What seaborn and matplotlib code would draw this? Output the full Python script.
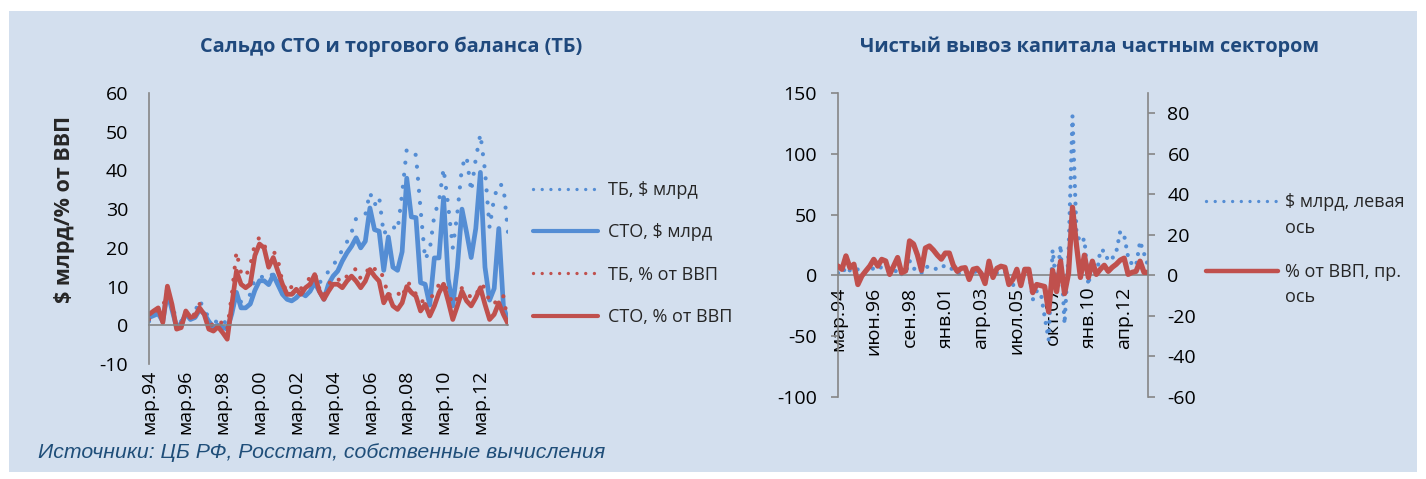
import numpy as np
import pandas as pd
import matplotlib
matplotlib.use("Agg")
import matplotlib.pyplot as plt
from matplotlib.patches import Rectangle
from matplotlib.lines import Line2D
import seaborn as sns

sns.set_style("white")
plt.rcParams['font.family'] = ['Open Sans', 'DejaVu Sans']
plt.rcParams['axes.unicode_minus'] = False

# ---------------- data (quarterly, Q1 1994 .. Q3 2013) ----------------
sto_usd = [2.0, 2.5, 3.0, 1.0, 8.5, 4.0, -0.5, 0.5, 3.0, 1.5, 2.0, 4.0, 3.0, 1.0, -0.5, 0.0,
           -0.5, -1.0, 3.0, 8.5, 4.5, 4.5, 5.5, 9.0, 11.5, 11.5, 10.5, 13.0, 10.5, 8.0, 6.7, 6.3,
           7.1, 8.4, 7.6, 8.8, 11.0, 8.8, 6.7, 10.6, 12.7, 14.0, 16.6, 18.7, 20.4, 22.6, 20.0, 21.7,
           30.3, 24.7, 24.3, 14.2, 22.8, 15.0, 14.2, 19.0, 38.0, 28.0, 27.8, 11.0, 10.6, 5.2, 17.4, 17.4,
           33.0, 12.0, 5.0, 15.0, 30.0, 24.0, 17.5, 25.0, 39.5, 15.0, 6.5, 9.5, 25.0, 5.0, 1.0]
tb_usd = [1.0, 2.5, 3.5, 3.5, 7.0, 5.0, 1.5, 1.0, 3.0, 2.5, 3.5, 6.5, 4.0, 2.0, 1.5, 0.5,
          1.5, 0.0, 3.5, 8.5, 6.0, 6.5, 8.0, 12.0, 12.5, 12.5, 12.0, 13.5, 11.5, 9.0, 7.5, 8.0,
          8.5, 9.5, 9.0, 10.5, 12.0, 11.0, 12.0, 14.0, 15.5, 17.2, 19.5, 21.5, 24.0, 27.6, 28.0, 28.5,
          34.3, 31.0, 33.2, 23.5, 25.3, 25.5, 24.5, 34.0, 45.5, 44.5, 44.0, 30.0, 17.0, 19.5, 28.5, 32.0,
          40.5, 31.0, 20.0, 29.0, 41.0, 43.6, 34.6, 43.0, 49.4, 40.0, 25.2, 33.0, 36.5, 36.0, 24.0]
sto_gdp = [2.8, 3.7, 4.5, 0.7, 10.1, 5.4, -1.0, -0.6, 3.7, 2.0, 2.4, 4.5, 2.8, -1.0, -1.5, -0.4,
           -1.9, -3.6, 5.4, 14.0, 10.6, 9.7, 10.6, 18.0, 21.0, 20.0, 15.0, 17.5, 14.0, 10.6, 8.0, 8.0,
           9.3, 8.0, 9.7, 10.6, 13.1, 8.8, 6.7, 8.8, 10.6, 10.6, 9.7, 11.4, 12.7, 11.4, 9.7, 11.4,
           14.4, 12.7, 11.4, 5.8, 8.0, 5.0, 4.1, 5.8, 10.0, 8.5, 7.5, 3.7, 5.4, 2.4, 5.0, 8.4,
           10.6, 6.3, 1.5, 5.0, 8.8, 6.3, 5.0, 7.1, 9.7, 5.4, 1.5, 2.8, 5.8, 2.8, 0.4]
tb_gdp = [1.5, 3.5, 4.0, 4.5, 9.5, 4.5, -0.5, 0.5, 3.5, 2.0, 3.0, 5.5, 3.0, 1.5, -0.5, 0.0,
          1.0, -1.0, 8.0, 19.0, 13.5, 12.5, 15.5, 21.0, 22.7, 20.5, 19.5, 19.3, 17.0, 11.0, 8.5, 10.0,
          10.5, 9.5, 10.5, 12.5, 13.5, 9.5, 7.5, 10.5, 12.3, 12.0, 11.0, 12.7, 13.0, 14.8, 12.0, 13.0,
          15.5, 14.5, 14.8, 12.0, 7.5, 9.0, 8.5, 7.0, 11.0, 10.5, 8.0, 6.0, 6.5, 6.5, 8.5, 10.5,
          11.0, 8.5, 5.4, 7.0, 9.7, 8.8, 7.0, 7.5, 10.6, 9.7, 6.0, 5.4, 7.6, 7.5, 0.7]

flight_usd = [2, 1, 7, 4, 3, 5, 2, 3, 4, 6, 5, 7, 6, 3, 2, 5,
              1, 2, 12, 6, 3, 2, 7, 7, 6, 5, 7, 8, 6, 5, 2, 1,
              2, 1, 3, 3, 1, 0, 4, 1, 2, 3, 3, -4, -9, 4, -7, 5,
              5, -20, -13, -14, -34, -53, 21, -10, 25, -40, 18, 131, 35, 27, 30, -8,
              13, -2, 21, 20, 12, 14, 19, 36, 33, 15, 9, 8, 28, 18, 8]
flight_gdp = [4.6, 3.0, 9.6, 3.8, 5.5, -4.5, -0.3, 2.2, 4.6, 7.9, 4.6, 7.9, 7.1, 0.5, 4.6, 8.8,
              1.3, 2.2, 17.0, 15.5, 10.0, 2.5, 13.5, 14.5, 12.5, 10.0, 8.0, 11.0, 11.0, 5.0, 2.0, 3.5,
              3.8, -2.0, 3.0, 3.5, 1.0, -4.0, 7.0, -1.0, 3.5, 4.5, 4.0, -4.5, -2.0, 3.0, -5.0, 3.0,
              3.0, -8.5, -4.5, -5.0, -5.5, -18.0, 2.5, -8.0, 7.0, -9.0, 1.0, 33.6, 15.0, -1.0, 10.0, -1.0,
              7.0, 0.5, 3.0, 5.0, 2.0, 4.0, 5.5, 7.5, 8.5, 0.5, 1.5, 2.0, 7.0, 1.5, 1.5]

left_ticklabels = ["мар.94", "мар.96", "мар.98", "мар.00", "мар.02", "мар.04",
                   "мар.06", "мар.08", "мар.10", "мар.12"]
right_ticklabels = ["мар.94", "июн.96", "сен.98", "янв.01", "апр.03", "июл.05",
                    "окт.07", "янв.10", "апр.12"]

left_labels = ["ТБ, $ млрд", "СТО, $ млрд", "ТБ, % от ВВП", "СТО, % от ВВП"]
right_labels = ["$ млрд, левая", "% от ВВП, пр."]

# ---------------- styling ----------------
W, H = 1426, 479
BLUE = "#548DD4"
RED = "#C0504D"
AXC = "#868686"
TITLEC = "#1F497D"
BG = "#D3DFEE"
FS_TICK = 14
FS_LEG = 13
FS_TITLE = 14.3

fig = plt.figure(figsize=(W / 100, H / 100), dpi=100)
fig.patch.set_facecolor("white")
fig.add_artist(Rectangle((9 / W, 1 - 472 / H), 1408 / W, 461 / H,
                         transform=fig.transFigure, facecolor=BG, edgecolor="none", zorder=0))

n = len(sto_usd)
df = pd.DataFrame({"q": np.arange(n), "sto_usd": sto_usd, "tb_usd": tb_usd,
                   "sto_gdp": sto_gdp, "tb_gdp": tb_gdp,
                   "flight_usd": flight_usd, "flight_gdp": flight_gdp})

DOT = (0, (0.01, 2.9))
DOT_R = (0, (0.01, 2.1))


def style_axis(ax):
    ax.set_facecolor("none")
    for s in ["top", "right"]:
        ax.spines[s].set_visible(False)
    for s in ["left", "bottom"]:
        ax.spines[s].set_color(AXC)
        ax.spines[s].set_linewidth(1.2)
    ax.tick_params(axis="both", colors=AXC, labelcolor="black", labelsize=FS_TICK,
                   length=5, width=1.2, direction="out")
    ax.tick_params(axis="y", pad=10)
    ax.grid(False)


# ---------------- left chart ----------------
axL = fig.add_axes([149 / W, 1 - 364 / H, 359 / W, 271 / H])
style_axis(axL)
sns.lineplot(data=df, x="q", y="tb_usd", ax=axL, color=BLUE, linewidth=3.0,
             linestyle=DOT, dash_capstyle="round")
sns.lineplot(data=df, x="q", y="sto_usd", ax=axL, color=BLUE, linewidth=3.4,
             solid_joinstyle="round")
sns.lineplot(data=df, x="q", y="tb_gdp", ax=axL, color=RED, linewidth=3.0,
             linestyle=DOT, dash_capstyle="round")
sns.lineplot(data=df, x="q", y="sto_gdp", ax=axL, color=RED, linewidth=3.4,
             solid_joinstyle="round")
axL.set_xlim(0, n - 1)
axL.set_ylim(-10, 60)
axL.set_yticks(np.arange(-10, 61, 10))
axL.set_xticks(np.arange(0, n, 8)[:len(left_ticklabels)])
axL.set_xticklabels(left_ticklabels)
axL.spines["bottom"].set_position(("data", 0))
axL.tick_params(axis="x", labelrotation=90, pad=27)
axL.set_xlabel("")
axL.set_ylabel("$ млрд/% от ВВП", fontsize=15.5, fontweight="bold")
axL.yaxis.set_label_coords(-0.205, 0.57)

fig.text(391 / W, 1 - 47 / H, "Сальдо СТО и торгового баланса (ТБ)", ha="center",
         va="center", fontsize=FS_TITLE, fontweight="bold", color=TITLEC)

handles_L = [Line2D([], [], color=BLUE, lw=2.4, linestyle=(0, (0.01, 2.6)), dash_capstyle="round"),
             Line2D([], [], color=BLUE, lw=3.0),
             Line2D([], [], color=RED, lw=2.4, linestyle=(0, (0.01, 2.6)), dash_capstyle="round"),
             Line2D([], [], color=RED, lw=3.0)]
fig.legend(handles_L, left_labels, loc="upper left", bbox_to_anchor=(533 / W, 1 - 181 / H),
           frameon=False, fontsize=FS_LEG, handlelength=3.6, handletextpad=0.55,
           labelspacing=1.35, borderpad=0, borderaxespad=0)

# ---------------- right chart ----------------
axR = fig.add_axes([838 / W, 1 - 397 / H, 310 / W, 304 / H])
style_axis(axR)
axR2 = axR.twinx()
axR2.set_facecolor("none")
sns.lineplot(data=df, x="q", y="flight_usd", ax=axR, color=BLUE, linewidth=3.0,
             linestyle=DOT_R, dash_capstyle="round")
sns.lineplot(data=df, x="q", y="flight_gdp", ax=axR2, color=RED, linewidth=3.8,
             solid_joinstyle="round")
axR.set_xlim(0, n - 1)
axR.set_ylim(-100, 150)
axR.set_yticks(np.arange(-100, 151, 50))
axR.set_xticks(np.arange(0, n, 9)[:len(right_ticklabels)])
axR.set_xticklabels(right_ticklabels)
axR.spines["bottom"].set_position(("data", 0))
axR.tick_params(axis="x", labelrotation=90, pad=3)
axR.set_xlabel("")
axR.set_ylabel("")

axR2.set_ylim(-60, 90)
axR2.set_yticks(np.arange(-60, 81, 20))
for s in ["top", "left", "bottom"]:
    axR2.spines[s].set_visible(False)
axR2.spines["right"].set_color(AXC)
axR2.spines["right"].set_linewidth(1.2)
axR2.tick_params(axis="y", colors=AXC, labelcolor="black", labelsize=FS_TICK,
                 length=5, width=1.2, direction="out", pad=9)
axR2.set_ylabel("")
axR2.grid(False)

fig.text(1090 / W, 1 - 47 / H, "Чистый вывоз капитала частным сектором", ha="center",
         va="center", fontsize=FS_TITLE, fontweight="bold", color=TITLEC)

handles_R = [Line2D([], [], color=BLUE, lw=2.4, linestyle=(0, (0.01, 2.6)), dash_capstyle="round"),
             Line2D([], [], color=RED, lw=3.2)]
fig.legend(handles_R, right_labels, loc="upper left",
           bbox_to_anchor=(1206 / W, 1 - 193 / H), frameon=False, fontsize=FS_LEG,
           handlelength=4.0, handletextpad=0.4, labelspacing=2.9, borderpad=0, borderaxespad=0)
fig.text(1285 / W, 1 - 228 / H, "ось", ha="left", va="center", fontsize=FS_LEG)
fig.text(1285 / W, 1 - 297 / H, "ось", ha="left", va="center", fontsize=FS_LEG)

# ---------------- source ----------------
fig.text(38 / W, 1 - 452 / H, "Источники: ЦБ РФ, Росстат, собственные вычисления",
         ha="left", va="center", fontsize=15.3, style="italic", color="#1F4E79",
         family=["Liberation Sans", "DejaVu Sans"])

fig.savefig("out.png", dpi=100, facecolor=fig.get_facecolor())
